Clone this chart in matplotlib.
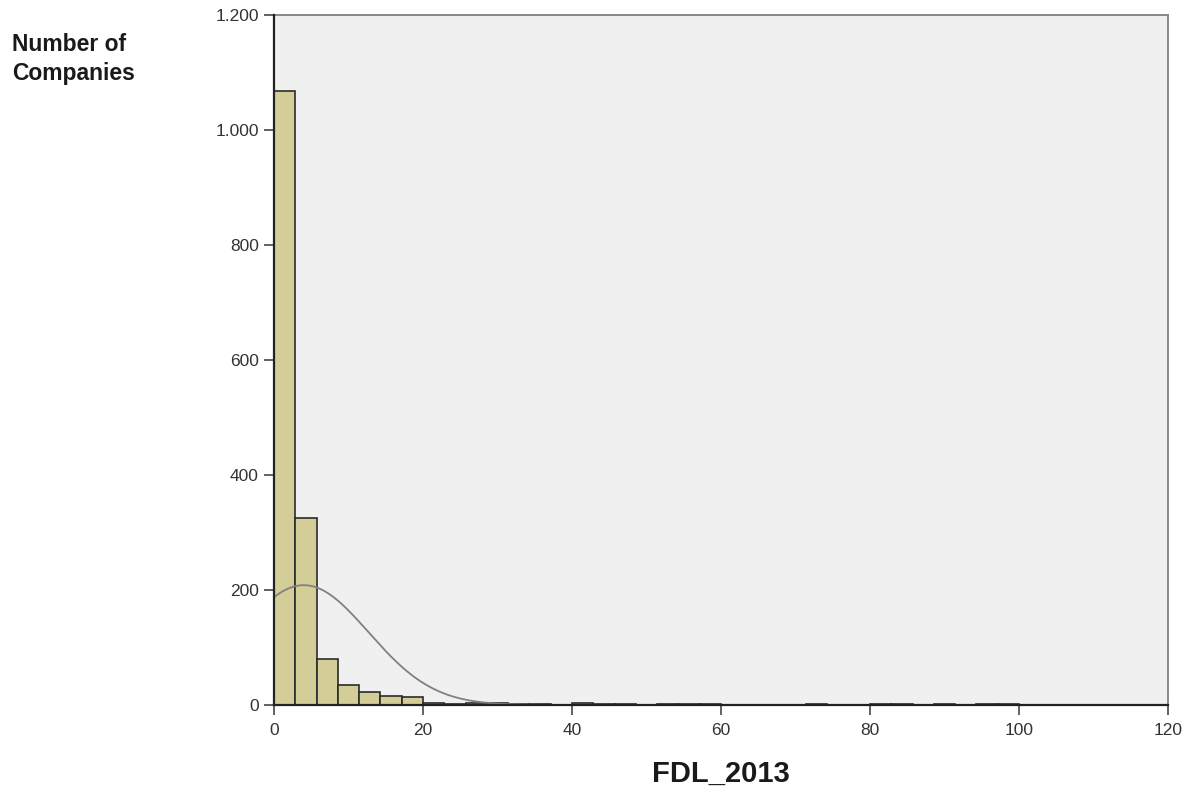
import matplotlib.pyplot as plt
import matplotlib.ticker as mticker
import numpy as np

plt.rcParams['font.family'] = ['Liberation Sans', 'DejaVu Sans']

# histogram bins (width 20/7) and counts
bin_width = 20 / 7
counts = [1068, 325, 80, 35, 23, 16, 14,
          3, 2, 4, 4, 1, 1, 0, 3, 1, 1, 0, 1, 1, 1,
          0, 0, 0, 0, 1, 0, 0, 1, 1, 0, 1, 0, 1, 2,
          0, 0, 0, 0, 0, 0, 0]
# normal curve overlay (SPSS style)
curve_mean = 4.0
curve_sd = 8.7

edges = np.arange(len(counts)) * bin_width

fig = plt.figure(figsize=(11.98, 7.94), dpi=100)
ax = fig.add_axes([0.2287, 0.1121, 0.9750 - 0.2287, 0.981 - 0.1121])
ax.set_facecolor('#f0f0f0')

ax.bar(edges, counts, width=bin_width, align='edge', color='#d3ce97',
       edgecolor='#2b2b2b', linewidth=1.2, zorder=2)

n_total = sum(counts)
xs = np.linspace(0, 120, 600)
ys = n_total * bin_width / (curve_sd * np.sqrt(2 * np.pi)) * np.exp(-(xs - curve_mean) ** 2 / (2 * curve_sd ** 2))
ax.plot(xs, ys, color='#808080', linewidth=1.3, zorder=3)

ax.set_xlim(0, 120)
ax.set_ylim(0, 1200)
ax.set_xticks(range(0, 121, 20))
ax.set_yticks(range(0, 1201, 200))
ax.yaxis.set_major_formatter(mticker.FuncFormatter(lambda v, p: f"{int(v):,}".replace(',', '.')))

for s in ['left', 'bottom']:
    ax.spines[s].set_color('#222222')
    ax.spines[s].set_linewidth(1.6)
    ax.spines[s].set_zorder(4)
for s in ['top', 'right']:
    ax.spines[s].set_color('#888888')
    ax.spines[s].set_linewidth(1.4)

ax.tick_params(axis='both', direction='out', length=7, width=1.3, color='#555555',
               labelsize=12.5, labelcolor='#333333', pad=4)
ax.tick_params(axis='x', pad=6)

ax.set_xlabel('FDL_2013', fontsize=21, fontweight='bold', color='#1a1a1a', labelpad=16)
fig.text(12 / 1198, 1 - 33 / 794, 'Number of\nCompanies', fontsize=16.5, fontweight='bold',
         color='#1a1a1a', ha='left', va='top', linespacing=1.35)

fig.savefig('out.png', dpi=100)
